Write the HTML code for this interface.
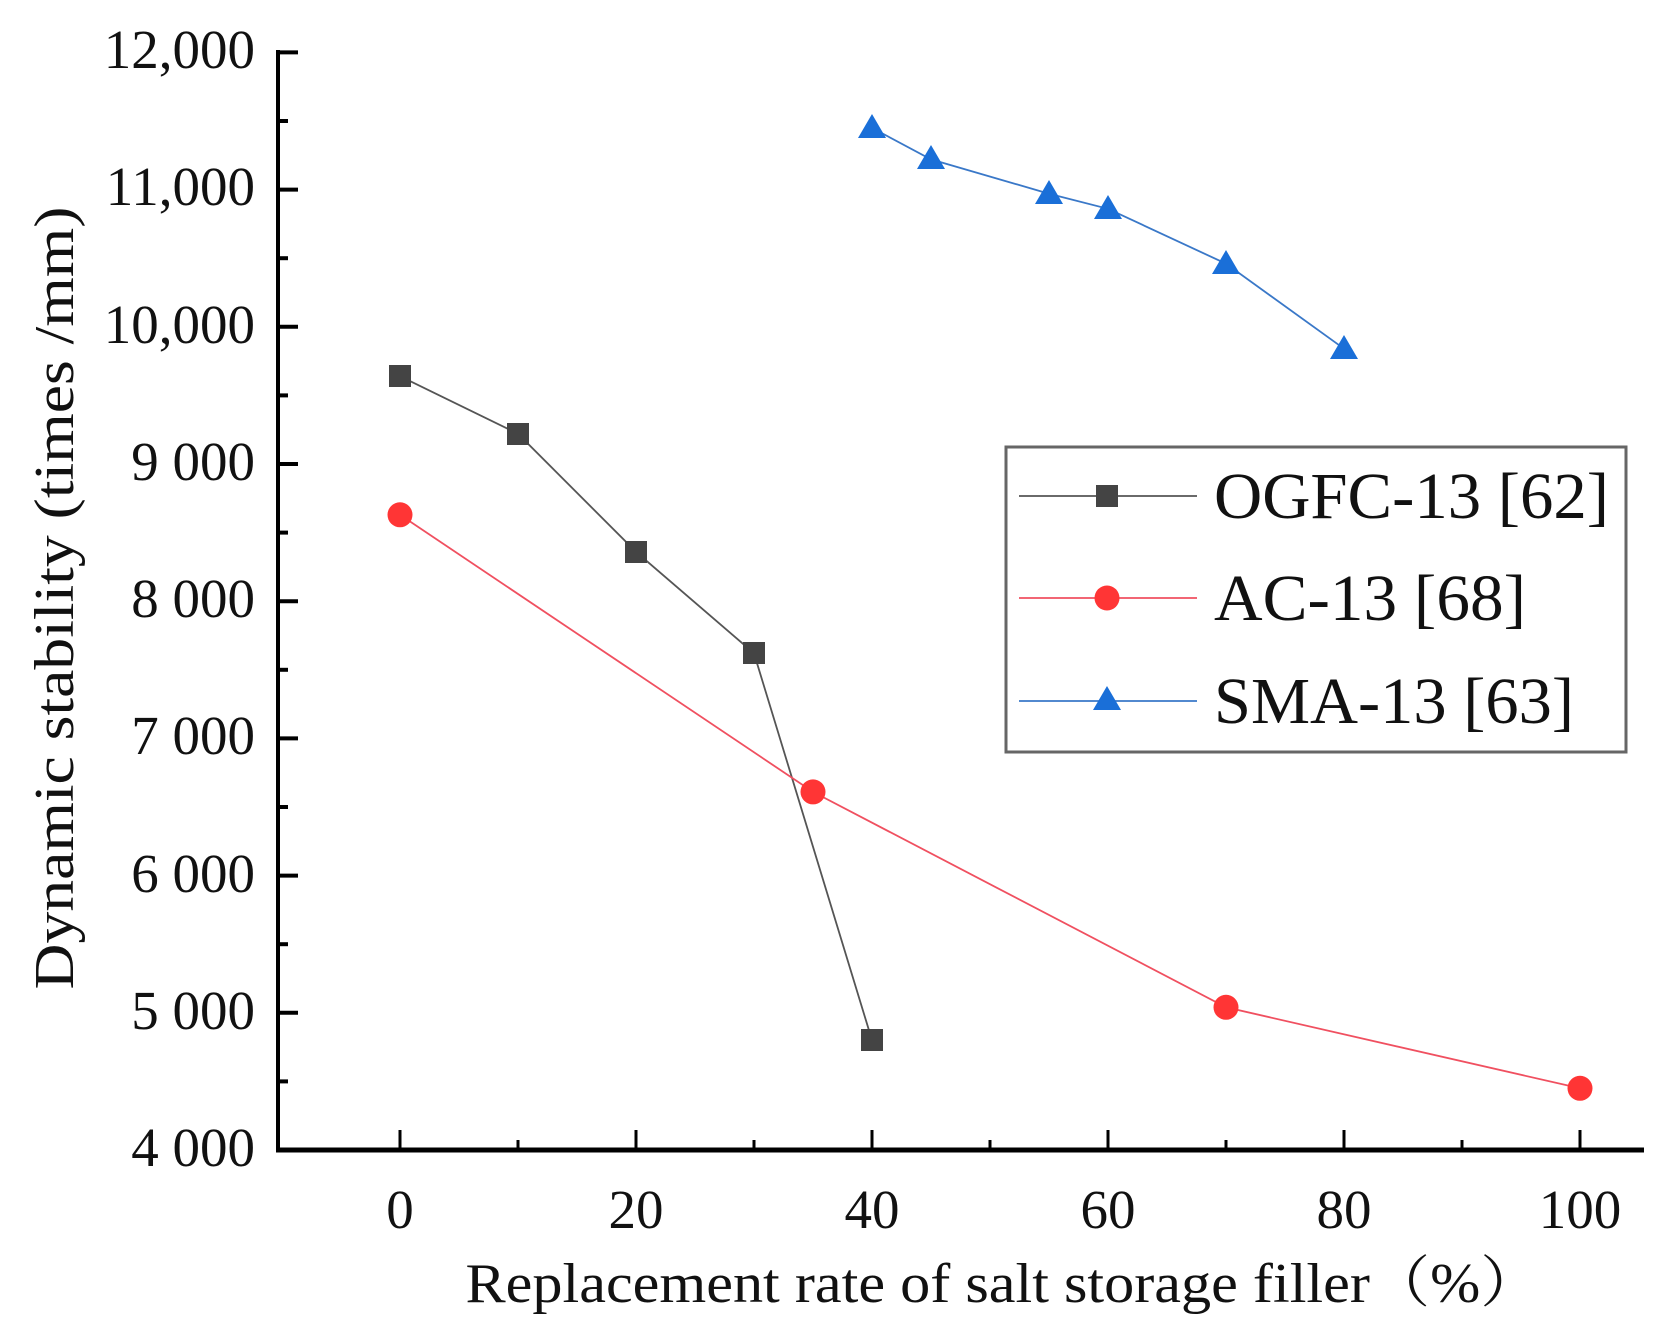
<!DOCTYPE html>
<html><head><meta charset="utf-8"><style>html,body{margin:0;padding:0;background:#fff}svg{display:block}</style></head>
<body>
<svg width="1653" height="1326" viewBox="0 0 1653 1326" xmlns="http://www.w3.org/2000/svg" font-family="Liberation Serif, serif">
<rect width="1653" height="1326" fill="#fff"/>
<line x1="278" y1="50" x2="278" y2="1152" stroke="#000" stroke-width="4"/>
<line x1="276" y1="1150" x2="1644" y2="1150" stroke="#000" stroke-width="5"/>
<g stroke="#000" stroke-width="4">
<line x1="278" y1="52.4" x2="298" y2="52.4"/><line x1="278" y1="121" x2="288" y2="121"/>
<line x1="278" y1="189.6" x2="298" y2="189.6"/><line x1="278" y1="258.2" x2="288" y2="258.2"/>
<line x1="278" y1="326.8" x2="298" y2="326.8"/><line x1="278" y1="395.4" x2="288" y2="395.4"/>
<line x1="278" y1="464" x2="298" y2="464"/><line x1="278" y1="532.6" x2="288" y2="532.6"/>
<line x1="278" y1="601.2" x2="298" y2="601.2"/><line x1="278" y1="669.8" x2="288" y2="669.8"/>
<line x1="278" y1="738.4" x2="298" y2="738.4"/><line x1="278" y1="807" x2="288" y2="807"/>
<line x1="278" y1="875.6" x2="298" y2="875.6"/><line x1="278" y1="944.2" x2="288" y2="944.2"/>
<line x1="278" y1="1012.8" x2="298" y2="1012.8"/><line x1="278" y1="1081.4" x2="288" y2="1081.4"/>
</g>
<g stroke="#000" stroke-width="3">
<line x1="400" y1="1150" x2="400" y2="1130"/><line x1="518" y1="1150" x2="518" y2="1140"/>
<line x1="636" y1="1150" x2="636" y2="1130"/><line x1="754" y1="1150" x2="754" y2="1140"/>
<line x1="872" y1="1150" x2="872" y2="1130"/><line x1="990" y1="1150" x2="990" y2="1140"/>
<line x1="1108" y1="1150" x2="1108" y2="1130"/><line x1="1226" y1="1150" x2="1226" y2="1140"/>
<line x1="1344" y1="1150" x2="1344" y2="1130"/><line x1="1462" y1="1150" x2="1462" y2="1140"/>
<line x1="1580" y1="1150" x2="1580" y2="1130"/>
</g>
<g font-size="55" text-anchor="end" fill="#111">
<text x="255" y="68">12,000</text><text x="255" y="205">11,000</text><text x="255" y="343">10,000</text>
<text x="255" y="480">9 000</text><text x="255" y="617">8 000</text><text x="255" y="754">7 000</text>
<text x="255" y="892">6 000</text><text x="255" y="1029">5 000</text><text x="255" y="1166">4 000</text>
</g>
<g font-size="55" text-anchor="middle" fill="#111">
<text x="400" y="1228">0</text><text x="636" y="1228">20</text><text x="872" y="1228">40</text>
<text x="1108" y="1228">60</text><text x="1344" y="1228">80</text><text x="1580" y="1228">100</text>
</g>
<text x="1003" y="1302" font-size="56" text-anchor="middle" textLength="1075" lengthAdjust="spacingAndGlyphs" fill="#111" font-family="Liberation Serif, Noto Serif CJK SC, serif">Replacement rate of salt storage filler（%）</text>
<text transform="translate(73,598) rotate(-90)" font-size="56" text-anchor="middle" textLength="783" lengthAdjust="spacingAndGlyphs" fill="#111">Dynamic stability (times /mm)</text>
<polyline fill="none" stroke="#555" stroke-width="1.8" points="400,376.2 518,433.8 636,551.8 754,653.3 872,1040.2"/>
<polyline fill="none" stroke="#f05060" stroke-width="1.8" points="400,514.8 813,791.9 1226,1007.3 1580,1088.3"/>
<polyline fill="none" stroke="#3a78c8" stroke-width="1.8" points="872,127.9 931,159.4 1049,193.7 1108,208.8 1226,263.7 1344,348.7"/>
<g fill="#444">
<rect x="389" y="365" width="22" height="22"/><rect x="507" y="423" width="22" height="22"/>
<rect x="625" y="541" width="22" height="22"/><rect x="743" y="642" width="22" height="22"/>
<rect x="861" y="1029" width="22" height="22"/>
</g>
<g fill="#ff3535">
<circle cx="400" cy="514.8" r="12.5"/><circle cx="813" cy="791.9" r="12.5"/>
<circle cx="1226" cy="1007.3" r="12.5"/><circle cx="1580" cy="1088.3" r="12.5"/>
</g>
<g fill="#1a6fd8">
<polygon points="872,114 858,138 886,138"/><polygon points="931,145 917,169 945,169"/>
<polygon points="1049,180 1035,204 1063,204"/><polygon points="1108,195 1094,219 1122,219"/>
<polygon points="1226,250 1212,274 1240,274"/><polygon points="1344,335 1330,359 1358,359"/>
</g>
<rect x="1006" y="447" width="620" height="305" fill="#fff" stroke="#666" stroke-width="3"/>
<line x1="1019" y1="496" x2="1197" y2="496" stroke="#555" stroke-width="1.8"/>
<rect x="1096" y="485" width="22" height="22" fill="#444"/>
<line x1="1019" y1="598" x2="1197" y2="598" stroke="#f05060" stroke-width="1.8"/>
<circle cx="1107" cy="598" r="12.5" fill="#ff3535"/>
<line x1="1019" y1="701" x2="1197" y2="701" stroke="#3a78c8" stroke-width="1.8"/>
<polygon points="1107,686 1093,710 1121,710" fill="#1a6fd8"/>
<g font-size="66" fill="#111">
<text x="1214" y="518" textLength="395" lengthAdjust="spacingAndGlyphs">OGFC-13 [62]</text>
<text x="1214" y="620" textLength="312" lengthAdjust="spacingAndGlyphs">AC-13 [68]</text>
<text x="1214" y="723" textLength="360" lengthAdjust="spacingAndGlyphs">SMA-13 [63]</text>
</g>
</svg>
</body></html>
